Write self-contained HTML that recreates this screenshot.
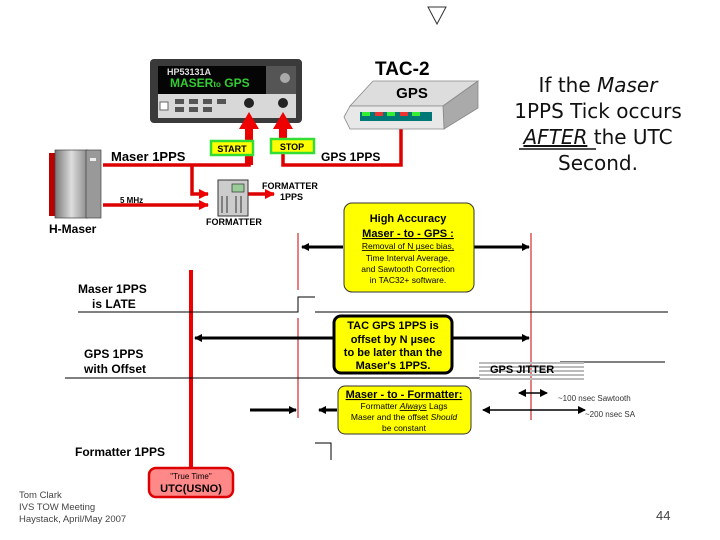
<!DOCTYPE html>
<html><head><style>
html,body{margin:0;padding:0;background:#fff;}
svg{display:block;font-family:"Liberation Sans",Arial,sans-serif;}
.b{font-weight:bold;}
</style></head><body>
<svg width="720" height="540" viewBox="0 0 720 540" xmlns="http://www.w3.org/2000/svg">
<defs>
<marker id="ah" markerWidth="8" markerHeight="8" refX="7" refY="4" orient="auto" markerUnits="userSpaceOnUse"><path d="M0,0 L8,4 L0,8 z" fill="#000"/></marker>
<marker id="rh" markerWidth="10" markerHeight="10" refX="9" refY="5" orient="auto" markerUnits="userSpaceOnUse"><path d="M0,0 L10,5 L0,10 z" fill="#e00"/></marker>
<linearGradient id="cab" x1="0" x2="1"><stop offset="0" stop-color="#777"/><stop offset="0.5" stop-color="#ddd"/><stop offset="1" stop-color="#888"/></linearGradient>
</defs>

<!-- top triangle -->
<path d="M428,7 L446,7 L437,24 Z" fill="none" stroke="#333" stroke-width="1"/>

<!-- HP counter -->
<rect x="150" y="59" width="152" height="64" rx="4" fill="#3a3a3a"/>
<rect x="158" y="66" width="108" height="28" fill="#050505"/>
<text x="167" y="75" font-size="9" fill="#ddd" class="b">HP53131A</text>
<text x="170" y="87" font-size="12" fill="#3c3" class="b">MASER<tspan font-size="8">to</tspan> GPS</text>
<rect x="266" y="66" width="30" height="28" fill="#555"/>
<circle cx="285" cy="78" r="5" fill="#aaa"/>
<rect x="158" y="94" width="138" height="24" fill="#d8d8d8"/>
<g fill="#555"><rect x="175" y="99" width="9" height="5"/><rect x="189" y="99" width="9" height="5"/><rect x="203" y="99" width="9" height="5"/><rect x="217" y="99" width="9" height="5"/><rect x="175" y="107" width="9" height="5"/><rect x="189" y="107" width="9" height="5"/><rect x="203" y="107" width="9" height="5"/></g>
<rect x="160" y="102" width="8" height="8" fill="#fff" stroke="#666"/>
<circle cx="249" cy="103" r="5" fill="#222"/><circle cx="283" cy="103" r="5" fill="#222"/>

<!-- red arrows to knobs -->
<path d="M249,112 L259,129 L253,129 L253,165 L245,165 L245,129 L239,129 Z" fill="#e00"/>
<path d="M283,112 L293,129 L287,129 L287,140 L279,140 L279,129 L273,129 Z" fill="#e00"/>
<g stroke="#d00" stroke-width="3.5" fill="none">
<path d="M103,165 L249,165 L249,135"/>
<path d="M283,150 L283,165 L401,165 L401,128"/>
<path d="M192,165 L192,194 L208,194" marker-end="url(#rh)"/>
<path d="M103,205 L208,205" marker-end="url(#rh)"/>
<path d="M248,194 L274,194" marker-end="url(#rh)"/>
</g>
<rect x="211" y="141" width="42" height="14" fill="#ff0" stroke="#3d3" stroke-width="2.5"/>
<text x="232" y="152" font-size="9" text-anchor="middle" class="b">START</text>
<rect x="271" y="139" width="43" height="14" fill="#ff0" stroke="#3d3" stroke-width="2.5"/>
<text x="292" y="150" font-size="9" text-anchor="middle" class="b">STOP</text>

<!-- H-Maser -->
<rect x="49" y="153" width="10" height="63" fill="#b00"/>
<rect x="55" y="150" width="33" height="68" fill="url(#cab)" stroke="#444" stroke-width="0.7"/>
<rect x="86" y="150" width="15" height="68" fill="#999" stroke="#444" stroke-width="0.7"/>
<rect x="90" y="158" width="6" height="3" fill="#eee"/>
<text x="49" y="233" font-size="12" class="b">H-Maser</text>
<text x="111" y="161" font-size="13" class="b">Maser 1PPS</text>
<text x="120" y="203" font-size="8" class="b">5 MHz</text>
<text x="321" y="161" font-size="12" class="b">GPS 1PPS</text>

<!-- formatter -->
<rect x="218" y="180" width="30" height="36" fill="#ccc" stroke="#333"/>
<rect x="232" y="184" width="12" height="8" fill="#9c9" stroke="#333" stroke-width="0.7"/>
<g stroke="#333"><line x1="222" y1="196" x2="222" y2="213"/><line x1="227" y1="196" x2="227" y2="213"/><line x1="236" y1="196" x2="236" y2="213"/><line x1="241" y1="196" x2="241" y2="213"/></g>
<text x="206" y="225" font-size="9" class="b">FORMATTER</text>
<text x="262" y="189" font-size="9" class="b">FORMATTER</text>
<text x="280" y="200" font-size="9" class="b">1PPS</text>

<!-- TAC-2 -->
<text x="375" y="75" font-size="19" class="b">TAC-2</text>
<path d="M373,81 L478,81 L443,106 L350,106 Z" fill="#ddd" stroke="#888" stroke-width="0.8"/>
<path d="M443,106 L478,81 L478,108 L444,129 Z" fill="#aaa" stroke="#888" stroke-width="0.8"/>
<path d="M350,106 L443,106 L444,129 L350,129 L344,117 Z" fill="#e8e8e8" stroke="#888" stroke-width="0.8"/>
<rect x="360" y="112" width="72" height="9" fill="#077"/>
<g fill="#3e3"><rect x="362" y="112" width="8" height="4"/><rect x="387" y="112" width="8" height="4"/><rect x="412" y="112" width="8" height="4"/></g>
<g fill="#e33"><rect x="375" y="112" width="8" height="4"/><rect x="400" y="112" width="8" height="4"/></g>
<text x="412" y="98" font-size="15" class="b" text-anchor="middle">GPS</text>

<!-- right text -->
<g font-family="DejaVu Sans, sans-serif" font-size="20" text-anchor="middle" fill="#111">
<text x="598" y="92">If the <tspan font-style="italic">Maser</tspan></text>
<text x="598" y="118">1PPS Tick occurs</text>
<text x="598" y="144"><tspan font-style="italic" text-decoration="underline">AFTER</tspan> the UTC</text>
<text x="598" y="170">Second.</text>
</g>
<line x1="519" y1="149" x2="596" y2="149" stroke="#111" stroke-width="1.5"/>

<!-- timing lines -->
<line x1="298" y1="233" x2="298" y2="290" stroke="#c00" stroke-width="1"/>
<line x1="298" y1="318" x2="298" y2="418" stroke="#c00" stroke-width="1"/>
<line x1="531" y1="233" x2="531" y2="420" stroke="#c00" stroke-width="1"/>
<line x1="191" y1="270" x2="191" y2="470" stroke="#e00" stroke-width="4"/>

<g stroke="#000" stroke-width="1">
<path d="M78,312 L298,312 L298,297 L315,297" fill="none"/>
<line x1="315" y1="312" x2="668" y2="312"/>
<line x1="65" y1="378" x2="480" y2="378"/>
<line x1="560" y1="362" x2="665" y2="362"/>
<path d="M315,443 L331,443 L331,460" fill="none"/>
</g>

<g stroke="#000" stroke-width="3" fill="none">
<line x1="343" y1="247" x2="302" y2="247" marker-end="url(#ah)"/>
<line x1="473" y1="247" x2="529" y2="247" marker-end="url(#ah)"/>
<line x1="335" y1="338" x2="195" y2="338" marker-end="url(#ah)"/>
<line x1="453" y1="338" x2="529" y2="338" marker-end="url(#ah)"/>
<line x1="250" y1="410" x2="296" y2="410" marker-end="url(#ah)"/>
<line x1="337" y1="410" x2="319" y2="410" marker-end="url(#ah)"/>
</g>
<g stroke="#000" stroke-width="1.5" fill="none">
<line x1="530" y1="393" x2="519" y2="393" marker-end="url(#ah)"/>
<line x1="530" y1="393" x2="547" y2="393" marker-end="url(#ah)"/>
<line x1="530" y1="410" x2="483" y2="410" marker-end="url(#ah)"/>
<line x1="530" y1="410" x2="585" y2="410" marker-end="url(#ah)"/>
</g>

<!-- jitter -->
<g fill="#bbb"><rect x="479" y="362" width="105" height="2"/><rect x="479" y="366" width="105" height="2"/><rect x="479" y="370" width="105" height="2"/><rect x="479" y="374" width="105" height="2"/><rect x="479" y="378" width="105" height="2"/></g>
<text x="490" y="373" font-size="11" class="b">GPS JITTER</text>
<text x="558" y="401" font-size="8" fill="#333">~100 nsec Sawtooth</text>
<text x="585" y="417" font-size="8" fill="#333">~200 nsec SA</text>

<!-- yellow box 1 -->
<rect x="344" y="203" width="130" height="89" rx="8" fill="#ff0" stroke="#333" stroke-width="1"/>
<g text-anchor="middle" font-size="11">
<text x="408" y="222" class="b">High Accuracy</text>
<text x="408" y="237" class="b" text-decoration="underline">Maser - to - GPS :</text>
<text x="408" y="249" font-size="8.5" text-decoration="underline">Removal of  N µsec bias,</text>
<text x="408" y="261" font-size="8.5">Time Interval Average,</text>
<text x="408" y="272" font-size="8.5">and Sawtooth Correction</text>
<text x="408" y="283" font-size="8.5">in TAC32+ software.</text>
</g>
<!-- yellow box 2 -->
<rect x="334" y="316" width="118" height="57" rx="7" fill="#ff0" stroke="#000" stroke-width="3"/>
<g text-anchor="middle" font-size="11" class="b">
<text x="393" y="329">TAC GPS 1PPS is</text>
<text x="393" y="343">offset by  N µsec</text>
<text x="393" y="356">to be later than the</text>
<text x="393" y="369">Maser's 1PPS.</text>
</g>
<!-- yellow box 3 -->
<rect x="338" y="386" width="133" height="48" rx="7" fill="#ff0" stroke="#333" stroke-width="1"/>
<g text-anchor="middle">
<text x="404" y="398" font-size="11" class="b" text-decoration="underline">Maser - to -  Formatter:</text>
<text x="404" y="409" font-size="8.5">Formatter <tspan font-style="italic" text-decoration="underline">Always</tspan> Lags</text>
<text x="404" y="420" font-size="8.5">Maser and the offset <tspan font-style="italic">Should</tspan></text>
<text x="404" y="431" font-size="8.5">be constant</text>
</g>

<!-- left labels -->
<g font-size="12" class="b">
<text x="78" y="293">Maser 1PPS</text>
<text x="92" y="308">is LATE</text>
<text x="84" y="358">GPS 1PPS</text>
<text x="84" y="373">with Offset</text>
<text x="75" y="456">Formatter 1PPS</text>
</g>

<!-- UTC box -->
<rect x="149" y="468" width="84" height="29" rx="7" fill="#f88" stroke="#d00" stroke-width="2.5"/>
<text x="191" y="479" font-size="8" text-anchor="middle">"True Time"</text>
<text x="191" y="492" font-size="11" text-anchor="middle" class="b">UTC(USNO)</text>

<!-- footer -->
<g font-size="9.5" fill="#444">
<text x="19" y="498">Tom Clark</text>
<text x="19" y="510">IVS TOW Meeting</text>
<text x="19" y="522">Haystack, April/May 2007</text>
</g>
<text x="656" y="520" font-size="13" fill="#444">44</text>
</svg>
</body></html>
